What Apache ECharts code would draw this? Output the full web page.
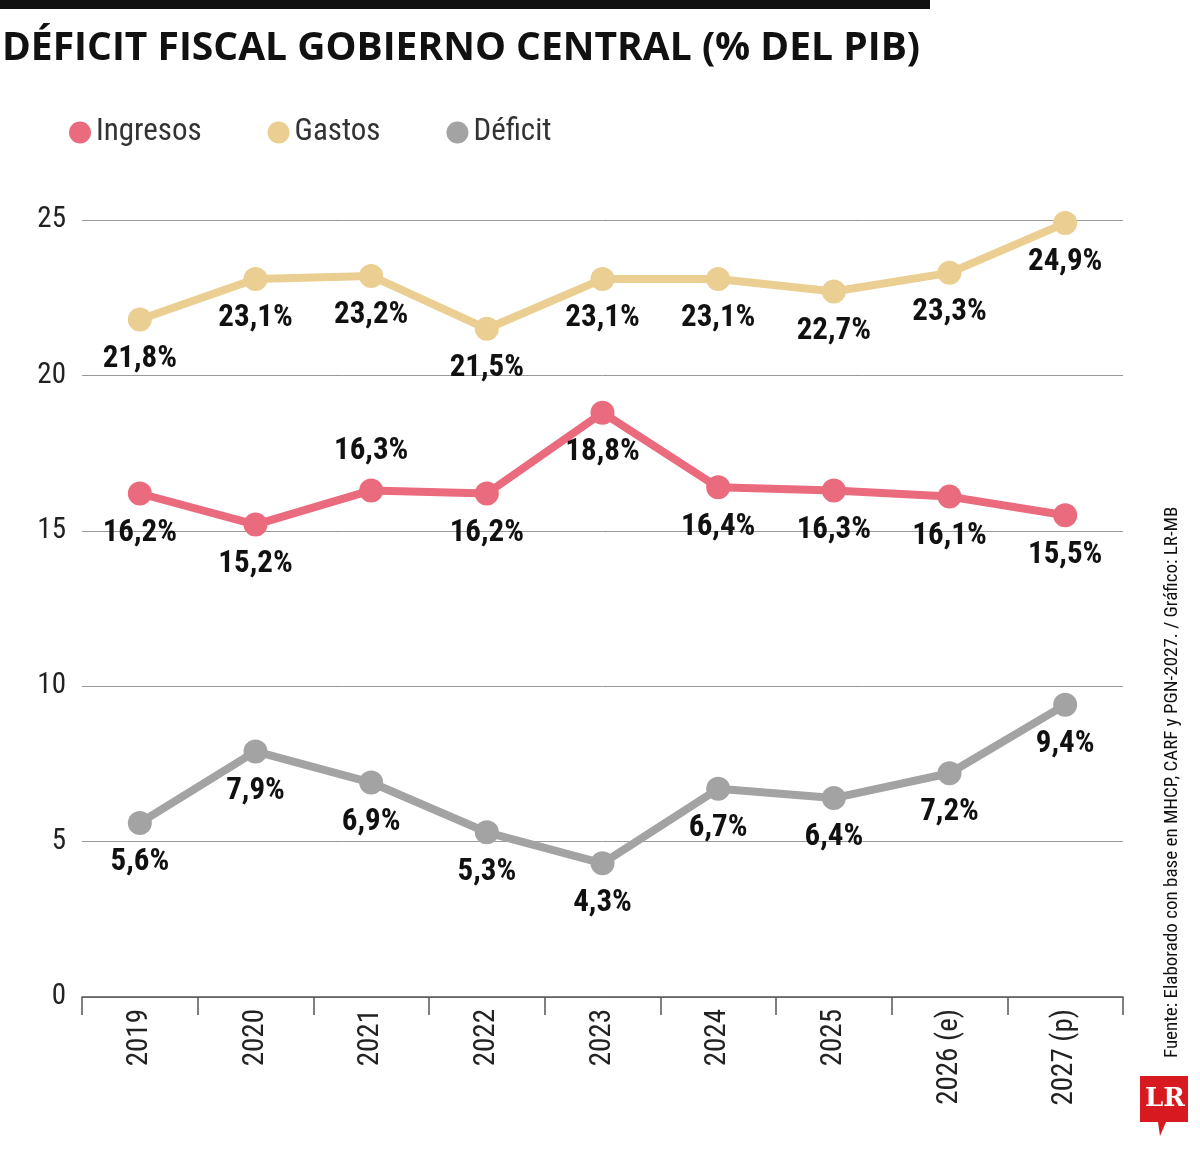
<!DOCTYPE html>
<html><head><meta charset="utf-8">
<script src="https://cdn.jsdelivr.net/npm/echarts@6/dist/echarts.min.js"></script>
<style>body{margin:0;background:#fff}#c{width:1200px;height:1151px}</style>
</head><body><div id="c"></div>
<script>
const categories=['2019','2020','2021','2022','2023','2024','2025','2026 (e)','2027 (p)'];
const ingresos=[16.2,15.2,16.3,16.2,18.8,16.4,16.3,16.1,15.5];
const gastos=[21.8,23.1,23.2,21.5,23.1,23.1,22.7,23.3,24.9];
const deficit=[5.6,7.9,6.9,5.3,4.3,6.7,6.4,7.2,9.4];
const yTicks=[0,5,10,15,20,25];
const F='"Liberation Sans Narrow","Roboto Condensed","DejaVu Sans Condensed",sans-serif';
const fmt=v=>v.toFixed(1).replace('.',',')+'%';
function ser(name,data,color,abovIdx){
  return {name,type:'line',data:data.map((v,i)=>({value:v,label:{position:abovIdx.includes(i)?'top':'bottom'}})),
    symbol:'circle',symbolSize:24,lineStyle:{width:8,color},itemStyle:{color},
    label:{show:true,distance:12,formatter:p=>fmt(p.value),fontFamily:F,fontWeight:'bold',fontSize:31,color:'#111'}};
}
const chart=echarts.init(document.getElementById('c'));
chart.setOption({
  animation:false,
  graphic:[
    {type:'rect',left:0,top:0,shape:{width:930,height:9},style:{fill:'#111'}},
    {type:'text',left:2,top:29,style:{text:'DÉFICIT FISCAL GOBIERNO CENTRAL (% DEL PIB)',font:'bold 39px "Open Sans",sans-serif',fill:'#111'}},
    {type:'text',x:1172,y:1058,rotation:Math.PI/2,style:{text:'Fuente: Elaborado con base en MHCP, CARF y PGN-2027. / Gráfico: LR-MB',font:'19px '+F,fill:'#111',textAlign:'left',textVerticalAlign:'middle'}},
    {type:'rect',left:1140,top:1076,shape:{width:48,height:46},style:{fill:'#d71920'}},
    {type:'polygon',shape:{points:[[1158,1122],[1166,1122],[1160,1136]]},style:{fill:'#d71920'}},
    {type:'text',left:1145,top:1086,style:{text:'LR',font:'bold 26px "DejaVu Serif",serif',fill:'#fff'}}
  ],
  legend:{left:64,top:112,itemWidth:22,itemHeight:22,itemGap:66,icon:'circle',
    textStyle:{fontFamily:F,fontSize:31,color:'#333'},data:['Ingresos','Gastos','Déficit']},
  grid:{left:82,right:77,top:220,bottom:154},
  xAxis:{type:'category',data:categories,boundaryGap:true,
    axisLine:{lineStyle:{color:'#555',width:1.5}},
    axisTick:{show:true,length:18,lineStyle:{color:'#555',width:1.5}},
    axisLabel:{rotate:90,margin:12,fontFamily:F,fontSize:29,color:'#222'}},
  yAxis:{type:'value',min:0,max:25,interval:5,
    axisLine:{show:false},axisTick:{show:false},
    splitLine:{lineStyle:{color:'#999',width:1}},
    axisLabel:{margin:16,fontFamily:F,fontSize:29,color:'#222',
      formatter:v=>yTicks.includes(v)?String(v):''}},
  series:[ser('Ingresos',ingresos,'#ea6a7e',[2]),ser('Gastos',gastos,'#ebcf92',[]),ser('Déficit',deficit,'#a3a3a3',[])]
});
</script></body></html>
